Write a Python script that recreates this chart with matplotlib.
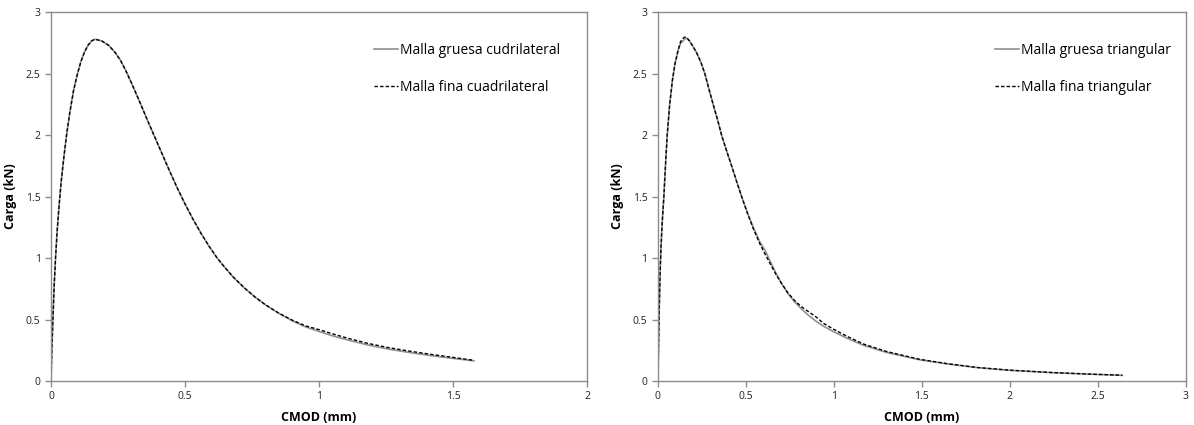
import numpy as np
import matplotlib.pyplot as plt

plt.rcParams['font.family'] = ['Open Sans', 'DejaVu Sans']

# --- left panel: cuadrilateral meshes ---
cmod_q = [0.0, 0.004, 0.008, 0.012, 0.017, 0.023, 0.030, 0.038, 0.047, 0.058, 0.070, 0.084,
          0.099, 0.112, 0.125, 0.138, 0.151, 0.164, 0.19, 0.215, 0.24, 0.26, 0.28, 0.30,
          0.33, 0.36, 0.38, 0.41, 0.44, 0.47, 0.50, 0.53, 0.56, 0.59, 0.62, 0.65,
          0.68, 0.72, 0.76, 0.80, 0.85, 0.90, 0.95, 1.0, 1.05, 1.10, 1.18, 1.26, 1.34, 1.42,
          1.50, 1.578]
carga_q_gruesa = [0.0, 0.3, 0.55, 0.78, 1.0, 1.22, 1.42, 1.62, 1.80, 2.0, 2.18, 2.36,
                  2.50, 2.60, 2.675, 2.73, 2.765, 2.78, 2.765, 2.73, 2.67, 2.605, 2.52, 2.425,
                  2.275, 2.12, 2.02, 1.87, 1.72, 1.575, 1.44, 1.315, 1.20, 1.095, 1.00, 0.92,
                  0.845, 0.76, 0.685, 0.62, 0.55, 0.49, 0.44, 0.403, 0.368, 0.338, 0.294, 0.259, 0.231, 0.206,
                  0.184, 0.164]
carga_q_fina = [0.0, 0.3, 0.55, 0.78, 1.0, 1.22, 1.42, 1.62, 1.80, 2.0, 2.18, 2.36,
                2.50, 2.60, 2.675, 2.73, 2.765, 2.78, 2.765, 2.73, 2.67, 2.605, 2.52, 2.425,
                2.275, 2.12, 2.02, 1.87, 1.72, 1.575, 1.44, 1.315, 1.20, 1.095, 1.00, 0.92,
                0.845, 0.76, 0.685, 0.62, 0.552, 0.495, 0.448, 0.418, 0.384, 0.352, 0.307, 0.271, 0.242, 0.216,
                0.192, 0.168]

# --- right panel: triangular meshes ---
cmod_t = [0.0, 0.004, 0.008, 0.013, 0.018, 0.025, 0.034, 0.043, 0.053, 0.067, 0.083, 0.097,
          0.115, 0.129, 0.145, 0.155, 0.165, 0.18, 0.20, 0.22, 0.245, 0.267, 0.29, 0.314,
          0.34, 0.362, 0.39, 0.419, 0.447, 0.476, 0.51, 0.545, 0.58, 0.61, 0.636, 0.67,
          0.70, 0.74, 0.78, 0.82, 0.86, 0.90, 0.94, 1.0, 1.08, 1.17, 1.3, 1.49, 1.65, 1.815,
          2.0, 2.24, 2.45, 2.64]
carga_t_gruesa = [0.0, 0.3, 0.6, 0.9, 1.1, 1.3, 1.5, 1.75, 2.0, 2.25, 2.45, 2.58,
                  2.69, 2.745, 2.77, 2.783, 2.788, 2.765, 2.72, 2.67, 2.59, 2.50, 2.375, 2.25,
                  2.12, 2.0, 1.875, 1.75, 1.625, 1.5, 1.365, 1.24, 1.13, 1.06, 0.98, 0.88,
                  0.80, 0.71, 0.64, 0.58, 0.53, 0.485, 0.447, 0.40, 0.345, 0.29, 0.232, 0.172, 0.138, 0.109,
                  0.087, 0.068, 0.056, 0.046]
carga_t_fina = [0.0, 0.3, 0.6, 0.9, 1.1, 1.3, 1.5, 1.75, 2.0, 2.25, 2.45, 2.58,
                2.69, 2.76, 2.79, 2.797, 2.79, 2.765, 2.72, 2.67, 2.59, 2.50, 2.375, 2.25,
                2.12, 2.0, 1.875, 1.75, 1.625, 1.5, 1.36, 1.23, 1.115, 1.03, 0.96, 0.87,
                0.80, 0.715, 0.65, 0.60, 0.56, 0.52, 0.47, 0.42, 0.36, 0.30, 0.24, 0.176, 0.14, 0.11,
                0.088, 0.069, 0.056, 0.047]

fig = plt.figure(figsize=(11.94, 4.25), dpi=100)
ax1 = fig.add_axes([0.0427, 0.1035, 0.449, 0.868])
ax2 = fig.add_axes([0.551, 0.1035, 0.442, 0.868])

def style(ax, xmax):
    ax.set_xlim(0, xmax)
    ax.set_ylim(0, 3)
    ax.set_xticks(np.arange(0, xmax + 0.01, 0.5))
    ax.set_xticklabels(['0', '0.5', '1', '1.5', '2', '2.5', '3'][:len(ax.get_xticks())])
    ax.set_yticks([0, 0.5, 1, 1.5, 2, 2.5, 3])
    ax.set_yticklabels(['0', '0.5', '1', '1.5', '2', '2.5', '3'])
    for s in ax.spines.values():
        s.set_color('#8c8c8c')
        s.set_linewidth(1.0)
    ax.tick_params(colors='#8c8c8c', labelcolor='#222222', labelsize=7.5, length=4, width=1.0)
    ax.set_xlabel('CMOD (mm)', fontsize=9, fontweight='bold', labelpad=6)
    ax.set_ylabel('Carga (kN)', fontsize=9, fontweight='bold', labelpad=6)

ax1.plot(cmod_q, carga_q_gruesa, color='#909090', lw=1.2, label='Malla gruesa cudrilateral')
ax1.plot(cmod_q, carga_q_fina, color='black', lw=1.0, ls=(0, (2.5, 1.5)), label='Malla fina cuadrilateral')
style(ax1, 2)
ax1.legend(loc='upper left', bbox_to_anchor=(0.58, 0.95), frameon=False, fontsize=10,
           handlelength=1.7, handletextpad=0.15, labelspacing=1.55)

ax2.plot(cmod_t, carga_t_gruesa, color='#909090', lw=1.2, label='Malla gruesa triangular')
ax2.plot(cmod_t, carga_t_fina, color='black', lw=1.0, ls=(0, (2.5, 1.5)), label='Malla fina triangular')
style(ax2, 3)
ax2.legend(loc='upper left', bbox_to_anchor=(0.615, 0.95), frameon=False, fontsize=10,
           handlelength=1.7, handletextpad=0.15, labelspacing=1.55)

fig.savefig('out.png', dpi=100)
